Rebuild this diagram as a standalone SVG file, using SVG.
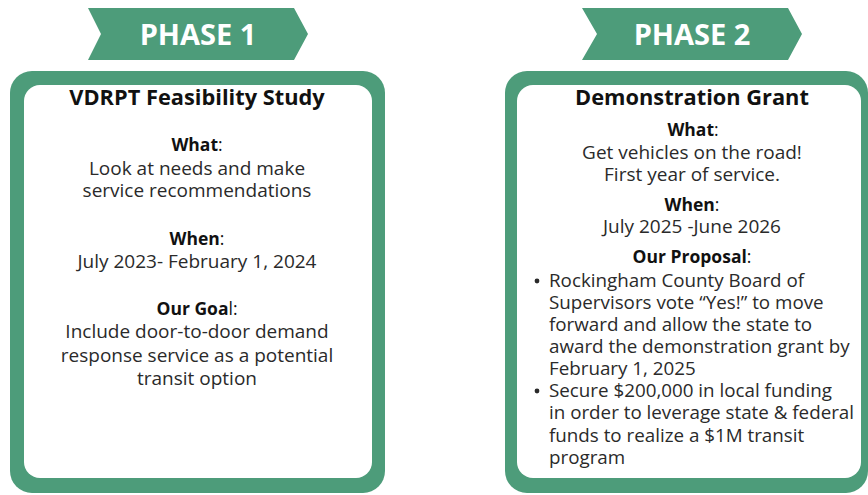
<svg xmlns="http://www.w3.org/2000/svg" width="868" height="495" viewBox="0 0 868 495">
<style>
.frame{fill:#4d9c7a}
.inner{fill:#ffffff}
.banner{fill:#4d9c7a}
.bt{font-family:"Open Sans","Noto Sans",sans-serif;font-weight:700;font-size:29px;fill:#ffffff;text-anchor:middle}
.title{font-family:"Open Sans","Noto Sans",sans-serif;font-weight:700;font-size:21.8px;fill:#111111;text-anchor:middle}
.h{font-family:"Open Sans","Noto Sans",sans-serif;font-weight:700;font-size:17.5px;fill:#111111;text-anchor:middle}
.b{font-family:"Open Sans","Noto Sans",sans-serif;font-size:19px;fill:#2a2a2a;text-anchor:middle}
.l{font-family:"Open Sans","Noto Sans",sans-serif;font-size:18.8px;fill:#2a2a2a}
.n{font-weight:400}
</style>
<rect width="868" height="495" fill="#ffffff"/>
<g id="phase1">
  <path class="banner" d="M88,8 L294,8 L308,34 L294,60 L88,60 L101,34 Z"/>
  <text class="bt" x="198" y="45">PHASE 1</text>
  <rect class="frame" x="10" y="71" width="375" height="422" rx="22"/>
  <rect class="inner" x="24" y="85" width="348" height="393" rx="16"/>
  <text class="title" x="197" y="105">VDRPT Feasibility Study</text>
  <text class="h" x="197" y="151">What<tspan class="n">:</tspan></text>
  <text class="b" x="197" y="175">Look at needs and make</text>
  <text class="b" x="197" y="197">service recommendations</text>
  <text class="h" x="197" y="245">When<tspan class="n">:</tspan></text>
  <text class="b" x="197" y="268">July 2023- February 1, 2024</text>
  <text class="h" x="197" y="315">Our Goa<tspan class="n">l:</tspan></text>
  <text class="b" x="197" y="338">Include door-to-door demand</text>
  <text class="b" x="197" y="362">response service as a potential</text>
  <text class="b" x="197" y="385">transit option</text>
</g>
<g id="phase2">
  <path class="banner" d="M582,8 L788,8 L802,34 L788,60 L582,60 L597,34 Z"/>
  <text class="bt" x="692" y="45">PHASE 2</text>
  <rect class="frame" x="505" y="71" width="363" height="422" rx="22"/>
  <rect class="inner" x="517" y="85" width="344" height="393" rx="16"/>
  <text class="title" x="692" y="105">Demonstration Grant</text>
  <text class="h" x="693" y="136">What<tspan class="n">:</tspan></text>
  <text class="b" x="692" y="159">Get vehicles on the road!</text>
  <text class="b" x="692" y="181">First year of service.</text>
  <text class="h" x="692" y="211">When<tspan class="n">:</tspan></text>
  <text class="b" x="692" y="233">July 2025 -June 2026</text>
  <text class="h" x="692" y="263">Our Proposal<tspan class="n">:</tspan></text>
  <circle cx="537" cy="281" r="2.4" fill="#2a2a2a"/>
  <text class="l" x="549" y="287">Rockingham County Board of</text>
  <text class="l" x="549" y="309">Supervisors vote “Yes!” to move</text>
  <text class="l" x="549" y="331">forward and allow the state to</text>
  <text class="l" x="549" y="353">award the demonstration grant by</text>
  <text class="l" x="549" y="375">February 1, 2025</text>
  <circle cx="537" cy="391" r="2.4" fill="#2a2a2a"/>
  <text class="l" x="549" y="397">Secure $200,000 in local funding</text>
  <text class="l" x="549" y="419">in order to leverage state &amp; federal</text>
  <text class="l" x="549" y="442">funds to realize a $1M transit</text>
  <text class="l" x="549" y="464">program</text>
</g>
<g id="connectors"></g>
</svg>
